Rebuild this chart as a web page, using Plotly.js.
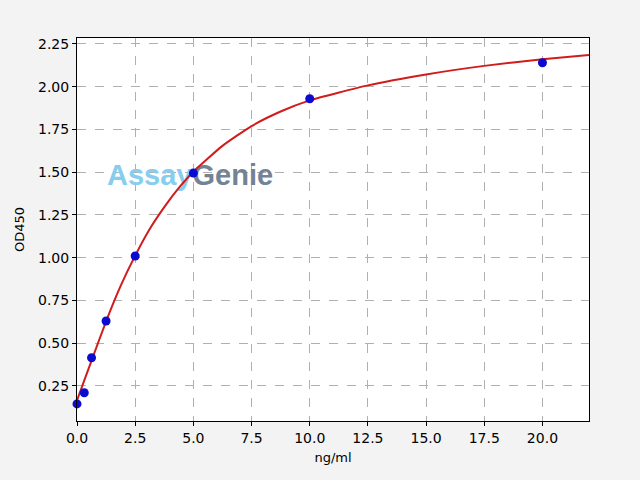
<!DOCTYPE html>
<html>
<head>
<meta charset="utf-8">
<script src="https://cdn.plot.ly/plotly-3.0.1.min.js"></script>
<style>
  html, body { margin: 0; padding: 0; background: #f3f3f3; }
  #chart { width: 640px; height: 480px; }
</style>
</head>
<body>
<div id="chart"></div>
<script>
// standard points
const concentration = [0, 0.3125, 0.625, 1.25, 2.5, 5, 10, 20];
const od450 = [0.145, 0.21, 0.415, 0.63, 1.01, 1.495, 1.93, 2.14];

// fitted curve
const curveX = [0, 0.3125, 0.625, 1.25, 1.875, 2.5, 3.125, 3.75, 4.375, 5, 6.25, 7.5, 8.75, 10, 12.5, 15, 17.5, 20, 22];
const curveY = [0.165, 0.283, 0.398, 0.628, 0.835, 1.012, 1.168, 1.296, 1.408, 1.503, 1.654, 1.77, 1.855, 1.92, 2.008, 2.072, 2.122, 2.161, 2.186];

const xTicks = [0, 2.5, 5, 7.5, 10, 12.5, 15, 17.5, 20];
const yTicks = [0.25, 0.5, 0.75, 1.0, 1.25, 1.5, 1.75, 2.0, 2.25];

// watermark, drawn first so it sits under the curve
const watermark = {
  x: [1.29],
  y: [1.47],
  type: "scatter",
  mode: "text",
  text: ["<b><span style='color:#86cdee'>Assay</span><span style='color:#738396'>Genie</span></b>"],
  textposition: "middle right",
  textfont: { family: "Liberation Sans", size: 29 },
  hoverinfo: "skip",
  cliponaxis: false,
};

const fitLine = {
  x: curveX,
  y: curveY,
  type: "scatter",
  mode: "lines",
  line: { color: "#d01c1c", width: 2, shape: "spline", smoothing: 0.5 },
  hoverinfo: "skip",
};

const points = {
  x: concentration,
  y: od450,
  type: "scatter",
  mode: "markers",
  marker: { color: "#0a0ad0", size: 9 },
  cliponaxis: false,
};

const axisStyle = {
  showline: true,
  linecolor: "#000",
  linewidth: 1,
  mirror: true,
  ticks: "outside",
  ticklen: 4,
  tickcolor: "#000",
  showgrid: true,
  gridcolor: "#b0b0b0",
  griddash: "dash",
  zeroline: false,
  tickfont: { color: "#000", size: 14 },
};

const layout = {
  width: 640,
  height: 480,
  margin: { t: 38, l: 77, r: 51, b: 59 },
  paper_bgcolor: "#f3f3f3",
  plot_bgcolor: "#ffffff",
  showlegend: false,
  font: { family: "DejaVu Sans", color: "#000" },
  xaxis: Object.assign({}, axisStyle, {
    range: [0, 22],
    tickvals: xTicks,
    tickformat: ".1f",
    title: { text: "ng/ml", font: { size: 13 }, standoff: 8 },
  }),
  yaxis: Object.assign({}, axisStyle, {
    range: [0.045, 2.285],
    tickvals: yTicks,
    tickformat: ".2f",
    title: { text: "OD450", font: { size: 13 }, standoff: 10 },
  }),
};

const config = { displayModeBar: false, staticPlot: true };

Plotly.newPlot("chart", [watermark, fitLine, points], layout, config);
</script>
</body>
</html>
